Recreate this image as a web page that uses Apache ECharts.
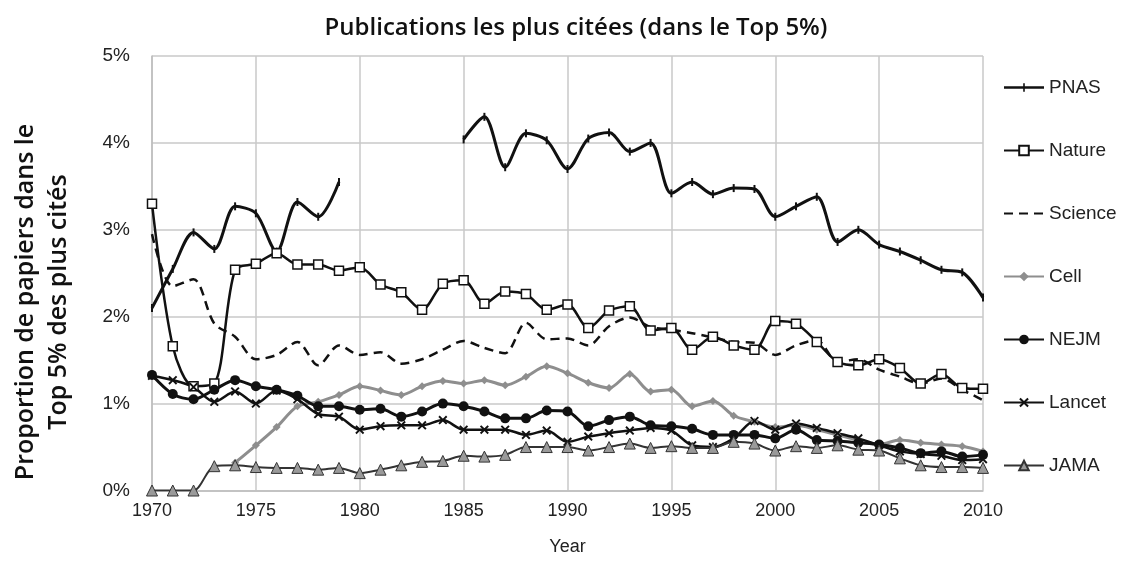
<!DOCTYPE html>
<html><head><meta charset="utf-8">
<script src="https://cdn.jsdelivr.net/npm/echarts@6/dist/echarts.min.js"></script>
<style>html,body{margin:0;padding:0;background:#fff}#c{width:1131px;height:562px}</style>
</head><body><div id="c"></div>
<script>
const years = [];
for (let y = 1970; y <= 2010; y++) years.push(y);
const xTicks = [1970,1975,1980,1985,1990,1995,2000,2005,2010];
const yTicks = ['0%','1%','2%','3%','4%','5%'];

const PNAS = [2.10,2.55,2.97,2.78,3.27,3.19,2.75,3.32,3.15,3.55,
  null,null,null,null,null,4.04,4.30,3.72,4.11,4.03,
  3.70,4.05,4.12,3.90,4.00,3.42,3.55,3.41,3.48,3.47,
  3.15,3.27,3.38,2.86,3.00,2.83,2.75,2.65,2.54,2.51,2.22];
const Nature = [3.30,1.66,1.20,1.23,2.54,2.61,2.73,2.60,2.60,2.53,
  2.57,2.37,2.28,2.08,2.38,2.42,2.15,2.29,2.26,2.08,
  2.14,1.87,2.07,2.12,1.84,1.87,1.62,1.77,1.67,1.62,
  1.95,1.92,1.71,1.48,1.44,1.51,1.41,1.23,1.34,1.18,1.17];
const Science = [2.95,2.35,2.43,1.92,1.77,1.51,1.56,1.71,1.44,1.67,
  1.56,1.59,1.46,1.51,1.62,1.72,1.64,1.58,1.93,1.74,
  1.75,1.67,1.89,1.99,1.88,1.85,1.81,1.76,1.71,1.70,
  1.56,1.67,1.73,1.48,1.51,1.39,1.31,1.23,1.29,1.16,1.04];
const Cell = [null,null,null,null,0.32,0.52,0.73,0.97,1.02,1.10,
  1.20,1.15,1.10,1.20,1.26,1.23,1.27,1.21,1.31,1.43,
  1.35,1.24,1.18,1.34,1.14,1.16,0.97,1.03,0.86,0.79,
  0.73,0.75,0.70,0.64,0.58,0.53,0.58,0.55,0.53,0.51,0.45];
const NEJM = [1.33,1.11,1.05,1.16,1.27,1.20,1.16,1.09,0.97,0.97,
  0.93,0.94,0.85,0.91,1.00,0.97,0.91,0.83,0.83,0.92,
  0.91,0.74,0.81,0.85,0.75,0.74,0.71,0.64,0.64,0.64,
  0.60,0.70,0.58,0.57,0.55,0.53,0.49,0.43,0.45,0.39,0.41];
const Lancet = [1.32,1.27,1.19,1.02,1.14,1.00,1.15,1.05,0.88,0.85,
  0.70,0.74,0.75,0.75,0.81,0.70,0.70,0.70,0.64,0.69,
  0.56,0.62,0.66,0.69,0.72,0.69,0.52,0.50,0.60,0.80,
  0.70,0.77,0.72,0.66,0.60,0.52,0.45,0.42,0.40,0.35,0.36];
const JAMA = [0,0,0,0.28,0.29,0.27,0.26,0.26,0.24,0.26,
  0.20,0.24,0.29,0.33,0.34,0.40,0.39,0.41,0.50,0.50,
  0.50,0.46,0.50,0.54,0.49,0.51,0.49,0.49,0.56,0.54,
  0.46,0.51,0.49,0.52,0.47,0.46,0.37,0.29,0.27,0.27,0.26];

const pairs = arr => years.map((y, i) => [y, arr[i]]);
const X_PATH = 'path://M0,1.5 L1.5,0 L5,3.5 L8.5,0 L10,1.5 L6.5,5 L10,8.5 L8.5,10 L5,6.5 L1.5,10 L0,8.5 L3.5,5 Z';
const PNAS_ICON = 'path://M0,5 L40,5 L40,7.5 L0,7.5 Z M19.2,2 L20.8,2 L20.8,10.5 L19.2,10.5 Z';
const FONT = 'Liberation Sans Narrow, Liberation Sans';

function line(name, data, opt) {
  return Object.assign({
    name, type: 'line', data: pairs(data), smooth: 0.3, connectNulls: false,
    lineStyle: { color: '#111', width: 2.5 },
    itemStyle: { color: '#111' },
    emphasis: { disabled: true }, animation: false
  }, opt);
}

const chart = echarts.init(document.getElementById('c'));
chart.setOption({
  animation: false,
  backgroundColor: '#fff',
  title: {
    text: 'Publications les plus citées (dans le Top 5%)',
    left: 571, top: 11, textAlign: 'center',
    textStyle: { fontFamily: 'Open Sans', fontSize: 24, fontWeight: 600, color: '#111' }
  },
  graphic: [{
    type: 'text', x: 42, y: 302, rotation: Math.PI / 2,
    style: {
      text: 'Proportion de papiers dans le\nTop 5% des plus cités',
      fontFamily: 'Open Sans', fontSize: 25, fontWeight: 600, fill: '#111',
      align: 'center', verticalAlign: 'middle', lineHeight: 33
    }
  }],
  grid: { left: 152, right: 148, top: 56, bottom: 71.5 },
  legend: {
    orient: 'vertical', left: 1003, top: 78, padding: 0, itemGap: 44, itemWidth: 40, itemHeight: 12,
    textStyle: { fontFamily: FONT, fontSize: 19, color: '#222' },
    data: [
      { name: 'PNAS', icon: PNAS_ICON, itemStyle: { color: '#111' } },
      'Nature',
      { name: 'Science', itemStyle: { opacity: 0 } },
      'Cell', 'NEJM', 'Lancet', 'JAMA'
    ]
  },
  xAxis: {
    type: 'value', min: 1970, max: 2010, interval: 5,
    name: 'Year', nameLocation: 'middle', nameGap: 48,
    nameTextStyle: { fontFamily: FONT, fontSize: 18, color: '#222' },
    axisLine: { show: true, lineStyle: { color: '#bdbdbd', width: 1.5 } },
    axisTick: { show: false },
    splitLine: { show: true, lineStyle: { color: '#c8c8c8', width: 1.5 } },
    axisLabel: { fontFamily: FONT, fontSize: 18, color: '#222', margin: 12,
      formatter: v => xTicks.includes(v) ? String(v) : '' }
  },
  yAxis: {
    type: 'value', min: 0, max: 5, interval: 1,
    axisLine: { show: true, lineStyle: { color: '#bdbdbd', width: 1.5 } },
    axisTick: { show: false },
    splitLine: { show: true, lineStyle: { color: '#c8c8c8', width: 1.5 } },
    axisLabel: { fontFamily: FONT, fontSize: 19, color: '#222', margin: 22,
      formatter: v => yTicks[Math.round(v)] }
  },
  series: [
    line('PNAS', PNAS, { symbol: 'rect', symbolSize: [2, 8], lineStyle: { color: '#111', width: 3 } }),
    line('Nature', Nature, { symbol: 'rect', symbolSize: 9, itemStyle: { color: '#fff', borderColor: '#111', borderWidth: 1.5 } }),
    line('Science', Science, { symbol: 'none', lineStyle: { color: '#111', width: 2.5, type: [9, 6] } }),
    line('Cell', Cell, { symbol: 'diamond', symbolSize: 8, lineStyle: { color: '#8e8e8e', width: 3 }, itemStyle: { color: '#8e8e8e' } }),
    line('NEJM', NEJM, { symbol: 'circle', symbolSize: 10, lineStyle: { color: '#111', width: 3 } }),
    line('Lancet', Lancet, { symbol: X_PATH, symbolSize: 9, lineStyle: { color: '#111', width: 2.5 } }),
    line('JAMA', JAMA, { symbol: 'triangle', symbolSize: 11, lineStyle: { color: '#333', width: 2 }, itemStyle: { color: '#9a9a9a', borderColor: '#333', borderWidth: 1 } })
  ]
});
</script></body></html>
